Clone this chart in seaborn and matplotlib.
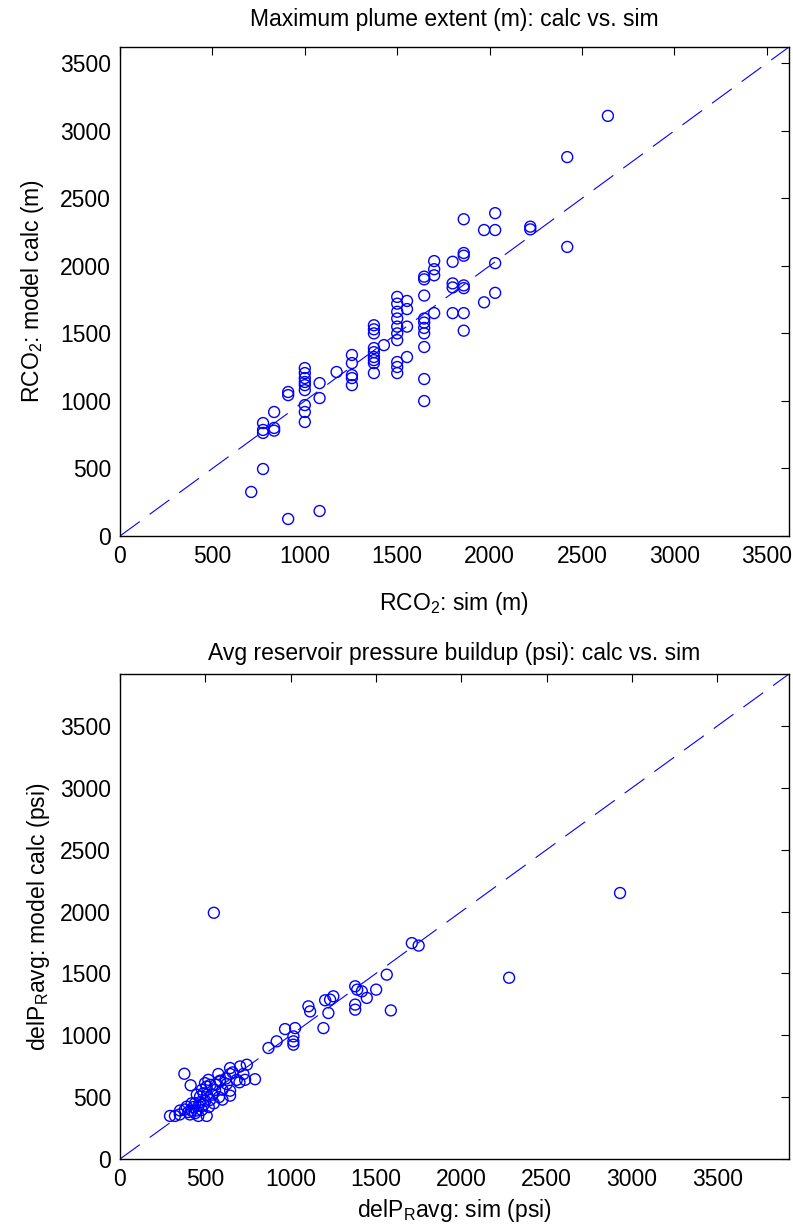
import matplotlib
matplotlib.use("Agg")
import matplotlib.pyplot as plt
import seaborn as sns
import pandas as pd

# ---------------- data ----------------
plume_sim = [710, 774, 774, 774, 774, 834, 834, 834, 910, 910, 910,
             1000, 1000, 1000, 1000, 1000, 1000, 1000, 1000, 1000,
             1080, 1080, 1080, 1172, 1255, 1255, 1255, 1255, 1255,
             1374, 1374, 1374, 1374, 1374, 1374, 1374, 1374, 1374, 1428,
             1500, 1500, 1500, 1500, 1500, 1500, 1500, 1500, 1500, 1500,
             1553, 1553, 1553, 1553,
             1646, 1646, 1646, 1646, 1646, 1646, 1646, 1646, 1646, 1646,
             1700, 1700, 1700, 1700, 1800, 1800, 1800, 1800,
             1860, 1860, 1860, 1860, 1860, 1860, 1860,
             1970, 1970, 2030, 2030, 2030, 2030, 2220, 2220, 2420, 2420, 2640]
plume_calc = [326, 496, 836, 785, 763, 918, 800, 780, 1066, 1043, 126,
              1243, 1206, 1169, 1140, 1117, 1080, 969, 918, 844,
              1132, 1021, 185, 1214, 1340, 1280, 1191, 1169, 1117,
              1560, 1530, 1500, 1391, 1361, 1325, 1302, 1280, 1206, 1413,
              1770, 1720, 1660, 1610, 1550, 1500, 1450, 1288, 1251, 1206,
              1740, 1680, 1550, 1325,
              1920, 1900, 1780, 1610, 1580, 1540, 1500, 1399, 1162, 999,
              2035, 1975, 1930, 1650, 2030, 1870, 1840, 1650,
              2345, 2095, 2075, 1855, 1835, 1650, 1520,
              2265, 1730, 2390, 2265, 2020, 1800, 2290, 2270, 2805, 2140, 3110]

press_sim = [2930, 2280, 550, 1710, 1750, 1563, 1587, 1378, 1390, 1417, 1501,
             1446, 1378, 1378, 1250, 1231, 1202, 1221, 1192, 1104, 1114,
             967, 1026, 1016, 1016, 1016, 918, 870, 743, 703, 645, 791,
             723, 733, 684, 645, 645, 645, 576, 586, 625, 518, 498, 377, 414,
             293, 322, 352, 391, 420, 449, 469, 489, 508, 528, 557, 586,
             459, 508, 440, 479, 400, 430, 460, 500, 540, 560, 600, 620,
             470, 520, 440, 380, 350, 410, 480, 550, 580, 530, 660, 700,
             600, 450, 490, 420, 510]
press_calc = [2150, 1465, 1990, 1745, 1725, 1490, 1201, 1396, 1369, 1355, 1369,
              1302, 1248, 1207, 1315, 1288, 1283, 1180, 1058, 1234, 1193,
              1050, 1058, 991, 951, 924, 951, 897, 762, 748, 735, 645,
              687, 640, 640, 687, 552, 512, 687, 633, 606, 640, 613, 689, 596,
              348, 348, 392, 423, 450, 392, 504, 531, 585, 477, 558, 626,
              348, 348, 450, 396, 380, 420, 430, 470, 520, 600, 560, 650,
              460, 420, 370, 400, 360, 360, 560, 450, 500, 600, 700, 620,
              480, 520, 440, 390, 520]

top_title = "Maximum plume extent (m): calc vs. sim"
top_xlabel = r"RCO$_\mathregular{2}$: sim (m)"
top_ylabel = r"RCO$_\mathregular{2}$: model calc (m)"
bot_title = "Avg reservoir pressure buildup (psi): calc vs. sim"
bot_xlabel = r"delP$_\mathregular{R}$avg: sim (psi)"
bot_ylabel = r"delP$_\mathregular{R}$avg: model calc (psi)"
ticks = [0, 500, 1000, 1500, 2000, 2500, 3000, 3500]
top_lim = 3620
bot_lim = 3920

# ---------------- style ----------------
sns.set_theme(style="white")
plt.rcParams["font.family"] = ["Liberation Sans", "DejaVu Sans"]
plt.rcParams["mathtext.fontset"] = "custom"
plt.rcParams["mathtext.rm"] = "Liberation Sans"
plt.rcParams["mathtext.it"] = "Liberation Sans"
plt.rcParams["text.color"] = "black"
plt.rcParams["axes.labelcolor"] = "black"

BLUE = "#0000FF"
FS = 16.5
fig = plt.figure(figsize=(7.93, 12.30), dpi=100)
ax1 = fig.add_axes([120/793, 1-536/1230, 669/793, 489/1230])
ax2 = fig.add_axes([120/793, 1-1159/1230, 669/793, 485/1230])

def panel(ax, xs, ys, lim, title, xl, yl, tpad):
    df = pd.DataFrame({"sim": xs, "calc": ys})
    sns.lineplot(x=[0, lim], y=[0, lim], ax=ax, color=BLUE, lw=0.8,
                 linestyle=(0, (22, 11)))
    sns.scatterplot(data=df, x="sim", y="calc", ax=ax, marker="o", s=62,
                    facecolors="none", edgecolors=BLUE, linewidth=1.0)
    ax.set_xlim(0, lim)
    ax.set_ylim(0, lim)
    ax.set_xticks(ticks)
    ax.set_yticks(ticks)
    ax.tick_params(direction="in", length=6, width=0.8, top=True, right=True,
                   labelsize=FS, colors="black", pad=6.5)
    for sp in ax.spines.values():
        sp.set_color("black")
        sp.set_linewidth(1.0)
    ax.set_title(title, fontsize=FS, pad=tpad)
    ax.set_xlabel(xl, fontsize=FS)
    ax.set_ylabel(yl, fontsize=FS)

panel(ax1, plume_sim, plume_calc, top_lim, top_title, top_xlabel, top_ylabel, 15)
panel(ax2, press_sim, press_calc, bot_lim, bot_title, bot_xlabel, bot_ylabel, 10)
ax1.xaxis.labelpad = 16
ax2.xaxis.labelpad = 4
ax1.yaxis.labelpad = 10
ax2.yaxis.labelpad = 6

fig.savefig("out.png", dpi=100)
